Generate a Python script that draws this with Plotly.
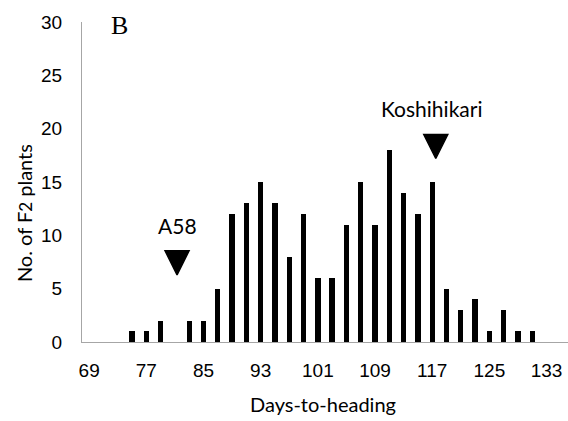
import plotly.graph_objects as go

# Histogram of days-to-heading (bins of 2 days, labelled by bin centre)
days = [75, 77, 79, 81, 83, 85, 87, 89, 91, 93, 95, 97, 99, 101, 103, 105, 107,
        109, 111, 113, 115, 117, 119, 121, 123, 125, 127, 129, 131]
counts = [1, 1, 2, 0, 2, 2, 5, 12, 13, 15, 13, 8, 12, 6, 6, 11, 15, 11, 18, 14,
          12, 15, 5, 3, 4, 1, 3, 1, 1]

tick_days = [69, 77, 85, 93, 101, 109, 117, 125, 133]
tick_labels = [str(d) for d in tick_days]
y_ticks = [0, 5, 10, 15, 20, 25, 30]

# Parent lines: heading date marker (arrow tip) and label
parents = ["A58", "Koshihikari"]
parent_days = [81.3, 117.5]
parent_tip = [6.3, 17.2]
parent_label_days = [81.3, 116.9]
parent_label_y = [10.9, 21.9]

TICK_FONT = dict(family="Liberation Sans", size=19, color="black")
TEXT_FONT = dict(family="Lato", size=20, color="black")
LABEL_FONT = dict(family="Lato", size=21, color="black")

fig = go.Figure()
fig.add_trace(go.Bar(x=days, y=counts, width=0.75,
                     marker=dict(color="black", line=dict(width=0))))
fig.add_trace(go.Scatter(x=parent_days, y=parent_tip, mode="markers",
                         marker=dict(symbol="arrow-down", size=24, color="black",
                                     line=dict(color="black", width=1.5)),
                         cliponaxis=False, hoverinfo="skip"))

for name, xd, yd in zip(parents, parent_label_days, parent_label_y):
    fig.add_annotation(x=xd, y=yd, text=name, showarrow=False,
                       xanchor="center", yanchor="middle", font=LABEL_FONT)

fig.add_annotation(xref="paper", yref="paper", x=(323 - 82) / 486, y=(342 - 404) / 320.3,
                   text="Days-to-heading", showarrow=False,
                   xanchor="center", yanchor="middle", font=TEXT_FONT)
fig.add_annotation(xref="paper", yref="paper", x=(24 - 82) / 486, y=(342 - 213) / 320.3,
                   text="No. of F<span style='font-size:17px'>2</span> plants", textangle=-90,
                   showarrow=False, xanchor="center", yanchor="middle", font=TEXT_FONT)
fig.add_annotation(xref="paper", yref="paper", x=(119 - 82) / 486, y=(342 - 25) / 320.3,
                   text="B", showarrow=False, xanchor="center", yanchor="middle",
                   font=dict(family="Liberation Serif", size=26, color="black"))

fig.update_layout(
    width=568, height=421,
    margin=dict(l=82, r=0, t=21.7, b=79),
    paper_bgcolor="white", plot_bgcolor="white",
    showlegend=False, bargap=0,
    xaxis=dict(range=[68, 136], tickvals=tick_days, ticktext=tick_labels,
               showgrid=False, zeroline=False, showline=True, linecolor="#a6a6a6",
               linewidth=1.3, ticks="", tickfont=TICK_FONT, ticklabelstandoff=11),
    yaxis=dict(range=[0, 30], tickvals=y_ticks, showgrid=False, zeroline=False,
               showline=True, linecolor="#a6a6a6", linewidth=1.3, ticks="",
               tickfont=TICK_FONT, ticklabelstandoff=15),
)

fig.write_html("out.html")
